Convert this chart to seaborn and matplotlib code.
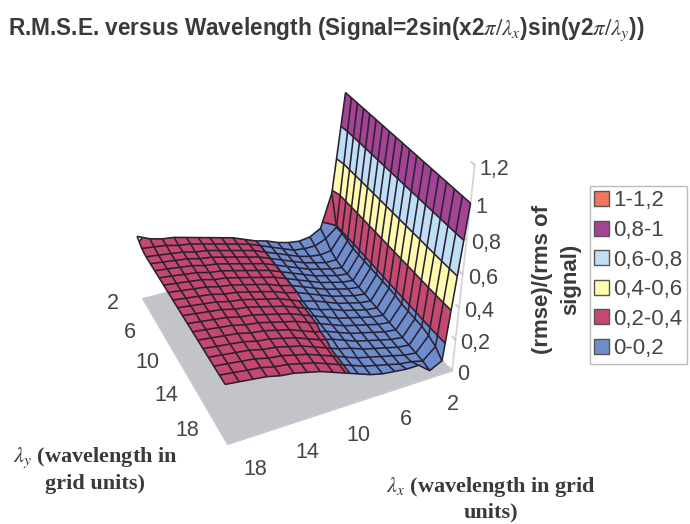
import numpy as np
import seaborn as sns
import matplotlib
matplotlib.use('Agg')
import matplotlib.pyplot as plt
from matplotlib.patches import Patch
from mpl_toolkits.mplot3d import proj3d
from mpl_toolkits.mplot3d.art3d import Poly3DCollection, Line3DCollection

wavelengths = np.arange(2, 21)
tick_vals = [2, 6, 10, 14, 18]
z_ticks = [0, 0.2, 0.4, 0.6, 0.8, 1, 1.2]
z_labels = ['0', '0,2', '0,4', '0,6', '0,8', '1', '1,2']

band_edges = [0, 0.2, 0.4, 0.6, 0.8, 1.0, 1.2]
band_names = ['0-0,2', '0,2-0,4', '0,4-0,6', '0,6-0,8', '0,8-1', '1-1,2']
band_colors = ['#6D8DCC', '#C4486F', '#FFFAAE', '#BEDEF6', '#A24393', '#F2755F']

# one row per lambda y (2..20), columns are lambda x (2..20)
rmse = np.array([
    [1.00, 0.38, 0.16, 0.12, 0.11, 0.12, 0.14, 0.17, 0.19, 0.22, 0.25, 0.27, 0.29, 0.31, 0.33, 0.35, 0.36, 0.38, 0.415],
    [1.00, 0.19, 0.13, 0.10, 0.10, 0.11, 0.14, 0.17, 0.20, 0.23, 0.25, 0.27, 0.29, 0.31, 0.33, 0.34, 0.36, 0.37, 0.38],
    [1.00, 0.19, 0.09, 0.08, 0.09, 0.11, 0.14, 0.17, 0.20, 0.23, 0.25, 0.27, 0.29, 0.31, 0.32, 0.34, 0.35, 0.36, 0.37],
    [1.00, 0.18, 0.07, 0.07, 0.09, 0.11, 0.14, 0.17, 0.20, 0.23, 0.25, 0.27, 0.29, 0.31, 0.32, 0.34, 0.35, 0.36, 0.37],
    [1.00, 0.17, 0.06, 0.07, 0.09, 0.11, 0.14, 0.17, 0.20, 0.23, 0.25, 0.27, 0.29, 0.31, 0.32, 0.34, 0.35, 0.36, 0.37],
    [1.00, 0.17, 0.06, 0.07, 0.09, 0.11, 0.14, 0.17, 0.20, 0.23, 0.25, 0.27, 0.29, 0.31, 0.32, 0.34, 0.35, 0.36, 0.37],
    [1.00, 0.17, 0.06, 0.07, 0.09, 0.11, 0.14, 0.17, 0.20, 0.23, 0.25, 0.27, 0.29, 0.31, 0.32, 0.34, 0.35, 0.36, 0.37],
    [1.00, 0.17, 0.06, 0.07, 0.09, 0.11, 0.14, 0.17, 0.20, 0.22, 0.25, 0.27, 0.29, 0.31, 0.32, 0.34, 0.35, 0.36, 0.37],
    [1.00, 0.17, 0.06, 0.07, 0.09, 0.11, 0.14, 0.17, 0.20, 0.22, 0.25, 0.27, 0.29, 0.31, 0.32, 0.34, 0.35, 0.36, 0.37],
    [1.00, 0.17, 0.06, 0.07, 0.09, 0.11, 0.14, 0.17, 0.19, 0.22, 0.25, 0.27, 0.29, 0.31, 0.32, 0.34, 0.35, 0.36, 0.37],
    [1.00, 0.17, 0.06, 0.07, 0.09, 0.11, 0.14, 0.16, 0.19, 0.22, 0.25, 0.27, 0.29, 0.31, 0.32, 0.34, 0.35, 0.36, 0.37],
    [1.00, 0.17, 0.06, 0.07, 0.09, 0.11, 0.13, 0.16, 0.19, 0.22, 0.25, 0.27, 0.29, 0.31, 0.32, 0.34, 0.35, 0.36, 0.37],
    [1.00, 0.16, 0.06, 0.07, 0.09, 0.11, 0.13, 0.16, 0.19, 0.22, 0.25, 0.27, 0.29, 0.31, 0.32, 0.34, 0.35, 0.36, 0.37],
    [1.00, 0.16, 0.06, 0.07, 0.09, 0.11, 0.13, 0.16, 0.19, 0.21, 0.24, 0.27, 0.29, 0.31, 0.32, 0.34, 0.35, 0.36, 0.37],
    [1.00, 0.16, 0.06, 0.07, 0.09, 0.11, 0.13, 0.16, 0.19, 0.21, 0.24, 0.27, 0.29, 0.31, 0.32, 0.34, 0.35, 0.36, 0.37],
    [1.00, 0.16, 0.06, 0.07, 0.09, 0.11, 0.13, 0.16, 0.18, 0.21, 0.24, 0.27, 0.29, 0.31, 0.32, 0.34, 0.35, 0.36, 0.37],
    [1.00, 0.15, 0.06, 0.07, 0.09, 0.11, 0.13, 0.15, 0.18, 0.21, 0.24, 0.27, 0.29, 0.31, 0.32, 0.34, 0.35, 0.36, 0.37],
    [1.00, 0.13, 0.06, 0.08, 0.09, 0.11, 0.13, 0.15, 0.18, 0.21, 0.24, 0.27, 0.29, 0.31, 0.32, 0.34, 0.35, 0.36, 0.37],
    [1.00, 0.09, 0.05, 0.11, 0.11, 0.12, 0.13, 0.15, 0.18, 0.21, 0.24, 0.27, 0.29, 0.31, 0.32, 0.34, 0.35, 0.36, 0.37],
])


def clip_band(poly, lo, hi):
    # cut a mesh cell down to the part that lies inside one colour band
    for level, keep_above in [(lo, True), (hi, False)]:
        out = []
        for i in range(len(poly)):
            a, b = poly[i], poly[(i + 1) % len(poly)]
            a_in = a[2] >= level if keep_above else a[2] <= level
            b_in = b[2] >= level if keep_above else b[2] <= level
            if a_in:
                out.append(a)
            if a_in != b_in:
                t = (level - a[2]) / (b[2] - a[2])
                out.append((a[0] + t * (b[0] - a[0]), a[1] + t * (b[1] - a[1]), level))
        poly = out
        if not poly:
            break
    return poly


sns.set_theme(style='white', font='Liberation Sans')
plt.rcParams['mathtext.fontset'] = 'stix'
plt.rcParams['axes3d.grid'] = False

fig = plt.figure(figsize=(6.9, 5.24), dpi=100)
ax = fig.add_axes([79.33 / 690, 73.24 / 524, 412.07 / 690, 412.07 / 524], projection='3d')
ax.view_init(34.17, 64.98)
ax.set_proj_type('persp', focal_length=0.487)
ax.set_box_aspect((0.994, 1, 0.975))
ax.computed_zorder = False
ax.patch.set_alpha(0)

X, Y = np.meshgrid(wavelengths, wavelengths)
polys, colors, borders = [], [], []
for r in range(rmse.shape[0] - 1):
    for c in range(rmse.shape[1] - 1):
        cell = [(X[r, c], Y[r, c], rmse[r, c]), (X[r, c + 1], Y[r, c + 1], rmse[r, c + 1]),
                (X[r + 1, c + 1], Y[r + 1, c + 1], rmse[r + 1, c + 1]), (X[r + 1, c], Y[r + 1, c], rmse[r + 1, c])]
        for b in range(len(band_names)):
            part = clip_band(cell, band_edges[b], band_edges[b + 1])
            if len(part) < 3:
                continue
            polys.append(part)
            colors.append(band_colors[b])
            on_edge = [p for p in part if p[2] == band_edges[b + 1]]
            if len(on_edge) == 2 and band_edges[b + 1] < 1.0:
                borders.append(on_edge)

surface = Poly3DCollection(polys, facecolors=colors, edgecolors=colors, linewidths=0.3, zorder=2)
ax.add_collection3d(surface)
ax.plot_wireframe(X, Y, rmse, color='#2B2030', linewidth=1.15, zorder=3)
ax.add_collection3d(Line3DCollection(borders, colors='#2B2030', linewidths=1.15, zorder=3))

ax.set_xlim(2, 20)
ax.set_ylim(2, 20)
ax.set_zlim(0, 1.2)
ax.set_xticks(tick_vals)
ax.set_yticks(tick_vals)
ax.set_zticks(z_ticks)
ax.set_xticklabels([])
ax.set_yticklabels([])
ax.set_zticklabels([])
ax.zaxis.set_ticks_position('upper')
ax.tick_params(color='#C8C8C8')

for axis in [ax.xaxis, ax.yaxis]:
    axis.set_pane_color((1, 1, 1, 0))
    axis.pane.set_edgecolor('#D4D4D4')
    axis.line.set_color('#C6C8CD')
    axis._axinfo['tick'].update({'inward_factor': 0, 'outward_factor': 0.3})
ax.zaxis.set_pane_color((0.765, 0.77, 0.79, 1))
ax.zaxis.pane.set_edgecolor('#C3C4C9')
ax.zaxis.line.set_color('#D4D4D4')
ax.zaxis._axinfo['tick'].update({'inward_factor': 0, 'outward_factor': 0.3})


def tick_label(x, y, z, label, dx, dy, ha='center'):
    # label sits a few pixels away from where the tick lands on screen
    px, py, _ = proj3d.proj_transform(x, y, z, ax.get_proj())
    ax.annotate(label, (px, py), xytext=(dx, dy), textcoords='offset pixels', ha=ha, va='center',
                fontsize=15.5, color='#444444', annotation_clip=False)


for t in tick_vals:
    tick_label(t, 20, 0, str(t), 1, -34)
    tick_label(20, t, 0, str(t), -30, -5)
for z, lab in zip(z_ticks, z_labels):
    tick_label(2, 20, z, lab, 5, -4, ha='left')

text_color = '#3A3A3A'
fig.text(8 / 690, 1 - 29 / 524, r'R.M.S.E. versus Wavelength (Signal=2sin(x2$\pi/\lambda_x$)sin(y2$\pi/\lambda_y$))',
         fontsize=16.25, fontweight='bold', color=text_color, va='center')
fig.text(95 / 690, 1 - 470 / 524, '$\\lambda_y$ (wavelength in\ngrid units)', family='Liberation Serif',
         fontsize=16, fontweight='bold', color=text_color, ha='center', va='center', linespacing=1.25)
fig.text(491 / 690, 1 - 498.5 / 524, '$\\lambda_x$ (wavelength in grid\nunits)', family='Liberation Serif',
         fontsize=16, fontweight='bold', color=text_color, ha='center', va='center', linespacing=1.25)
fig.text(556.5 / 690, 1 - 279 / 524, '(rmse)/(rms of\nsignal)', rotation=90, fontsize=16, fontweight='bold',
         color=text_color, ha='center', va='center', linespacing=1.45)

handles = [Patch(facecolor=c, edgecolor='#555555', label=n) for c, n in zip(band_colors, band_names)]
fig.legend(handles=handles[::-1], loc='upper left', bbox_to_anchor=(590 / 690, 1 - 186 / 524), fontsize=16,
           frameon=True, fancybox=False, edgecolor='#BBBBBB', facecolor='white', framealpha=1,
           handlelength=0.65, handleheight=0.65, handletextpad=0.2, labelspacing=0.385, borderpad=0.2,
           borderaxespad=0, labelcolor='#444444')

fig.savefig('out.png', dpi=100)
